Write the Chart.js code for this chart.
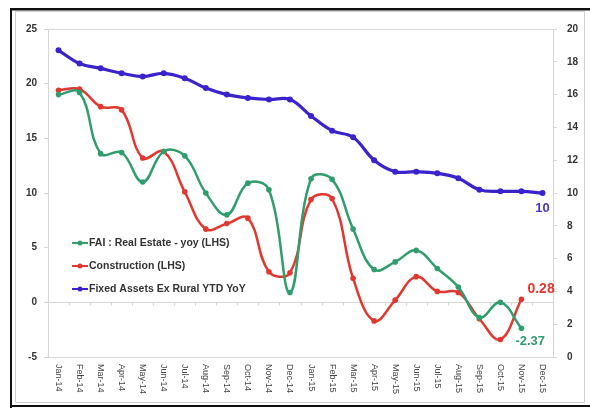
<!DOCTYPE html>
<html>
<head>
<meta charset="utf-8">
<script src="https://cdn.jsdelivr.net/npm/chart.js@4.4.0/dist/chart.umd.min.js"></script>
<style>
  html, body { margin: 0; padding: 0; background: #fff; }
  #wrap { position: relative; width: 590px; height: 408px; }
</style>
</head>
<body>
<div id="wrap"><canvas id="fai-chart"></canvas></div>
<script>
// Data
const months = ['Jan-14', 'Feb-14', 'Mar-14', 'Apr-14', 'May-14', 'Jun-14', 'Jul-14', 'Aug-14',
  'Sep-14', 'Oct-14', 'Nov-14', 'Dec-14', 'Jan-15', 'Feb-15', 'Mar-15', 'Apr-15', 'May-15',
  'Jun-15', 'Jul-15', 'Aug-15', 'Sep-15', 'Oct-15', 'Nov-15', 'Dec-15'];
const realEstate = [19.0, 19.2, 13.6, 13.7, 11.0, 13.8, 13.4, 10.0, 8.0, 10.9, 10.3, 0.9,
  11.3, 11.25, 6.7, 3.0, 3.7, 4.75, 3.1, 1.4, -1.4, 0.0, -2.37, null];
const construction = [19.4, 19.5, 17.9, 17.6, 13.2, 13.8, 10.1, 6.7, 7.2, 7.7, 2.8, 2.7,
  9.4, 9.5, 2.2, -1.7, 0.2, 2.35, 1.0, 0.9, -1.5, -3.4, 0.28, null];
const fixedAssets = [18.7, 17.9, 17.6, 17.3, 17.1, 17.3, 17.0, 16.4, 16.0, 15.8, 15.7, 15.7,
  14.7, 13.8, 13.4, 12.0, 11.3, 11.3, 11.2, 10.9, 10.2, 10.1, 10.1, 10.0];
const leftTicks = [-5, 0, 5, 10, 15, 20, 25];
const rightTicks = [0, 2, 4, 6, 8, 10, 12, 14, 16, 18, 20];
const seriesNames = ['FAI : Real Estate - yoy (LHS)', 'Construction (LHS)', 'Fixed Assets Ex Rural YTD YoY'];

const green = '#2f9e6c';
const red = '#e2372e';
const blue = '#3a22cc';
const axisGray = '#d6d6d6';
const textColor = '#333333';

// frame, plot box, zero line, rotated month labels, legend and end labels
const decorPlugin = {
  id: 'decor',
  beforeDraw(chart) {
    const { ctx, chartArea: a } = chart;
    ctx.save();
    ctx.fillStyle = '#fff';
    ctx.fillRect(0, 0, chart.width, chart.height);
    ctx.strokeStyle = '#cfcfcf';
    ctx.lineWidth = 1;
    ctx.strokeRect(15.5, 11.5, 569, 391);
    ctx.fillStyle = '#111';
    ctx.fillRect(10, 8, 580, 2.5);
    ctx.fillRect(10, 8, 2, 400);
    ctx.fillRect(10, 405, 580, 2);
    ctx.strokeStyle = axisGray;
    ctx.strokeRect(a.left + 0.5, a.top + 0.5, a.right - a.left, a.bottom - a.top);
    // zero line of the left axis
    const y0 = Math.round(chart.scales.y.getPixelForValue(0)) + 0.5;
    ctx.beginPath();
    ctx.moveTo(a.left, y0);
    ctx.lineTo(a.right, y0);
    const xs = chart.scales.x;
    for (let i = 0; i <= months.length; i++) {
      const bx = Math.round(xs.getPixelForValue(i - 0.5)) + 0.5;
      ctx.moveTo(bx, y0);
      ctx.lineTo(bx, y0 + 3);
    }
    ctx.stroke();
    ctx.restore();
  },
  afterDraw(chart) {
    const { ctx } = chart;
    const xs = chart.scales.x;
    ctx.save();
    // month labels, rotated clockwise
    ctx.fillStyle = '#444';
    ctx.font = '9px "Liberation Sans", Arial, sans-serif';
    ctx.textAlign = 'left';
    ctx.textBaseline = 'middle';
    months.forEach((m, i) => {
      ctx.save();
      ctx.translate(xs.getPixelForValue(i), 364);
      ctx.rotate(Math.PI / 2);
      ctx.fillText(m, 0, 0);
      ctx.restore();
    });
    // legend inside plot
    const legendY = [243, 266, 289];
    chart.data.datasets.forEach((ds, i) => {
      const y = legendY[i];
      ctx.strokeStyle = ds.borderColor;
      ctx.lineWidth = 2;
      ctx.beginPath();
      ctx.moveTo(72, y);
      ctx.lineTo(88, y);
      ctx.stroke();
      ctx.fillStyle = ds.borderColor;
      ctx.beginPath();
      ctx.arc(80, y, 2.5, 0, Math.PI * 2);
      ctx.fill();
      ctx.fillStyle = '#333';
      ctx.font = 'bold 10.5px "Liberation Sans", Arial, sans-serif';
      ctx.textBaseline = 'middle';
      ctx.fillText(seriesNames[i], 89, y);
    });
    // end-of-series value labels
    const yL = chart.scales.y, yR = chart.scales.y1;
    const lastRE = realEstate.length - 2, lastC = construction.length - 2, lastF = fixedAssets.length - 1;
    ctx.textBaseline = 'middle';
    ctx.font = 'bold 13px "Liberation Sans", Arial, sans-serif';
    ctx.fillStyle = '#4a36c4';
    ctx.textAlign = 'center';
    ctx.fillText(String(fixedAssets[lastF]), xs.getPixelForValue(lastF), yR.getPixelForValue(fixedAssets[lastF]) + 15);
    ctx.textAlign = 'left';
    ctx.font = 'bold 14px "Liberation Sans", Arial, sans-serif';
    ctx.fillStyle = red;
    ctx.fillText(construction[lastC].toFixed(2), xs.getPixelForValue(lastC) + 6, yL.getPixelForValue(construction[lastC]) - 10);
    ctx.font = 'bold 13px "Liberation Sans", Arial, sans-serif';
    ctx.fillStyle = green;
    ctx.fillText(realEstate[lastRE].toFixed(2), xs.getPixelForValue(lastRE) - 6, yL.getPixelForValue(realEstate[lastRE]) + 13);
    ctx.restore();
  }
};

const tickFont = { family: '"Liberation Sans", Arial, sans-serif', size: 10, weight: 'bold' };

new Chart(document.getElementById('fai-chart'), {
  type: 'line',
  data: {
    labels: months,
    datasets: [
      { label: seriesNames[0], data: realEstate, yAxisID: 'y', borderColor: green, backgroundColor: green,
        borderWidth: 2.5, pointRadius: 2.8, pointBorderWidth: 0, tension: 0.4 },
      { label: seriesNames[1], data: construction, yAxisID: 'y', borderColor: red, backgroundColor: red,
        borderWidth: 2.5, pointRadius: 2.8, pointBorderWidth: 0, tension: 0.4 },
      { label: seriesNames[2], data: fixedAssets, yAxisID: 'y1', borderColor: blue, backgroundColor: blue,
        borderWidth: 3.2, pointRadius: 3, pointBorderWidth: 0, tension: 0.4 }
    ]
  },
  options: {
    responsive: true,
    maintainAspectRatio: false,
    animation: false,
    layout: { padding: { top: 29, left: 0, right: 0, bottom: 0 } },
    plugins: { legend: { display: false }, tooltip: { enabled: false } },
    scales: {
      x: {
        offset: true,
        grid: { display: false },
        border: { display: false },
        ticks: { display: false },
        afterFit: s => { s.height = 51; }
      },
      y: {
        position: 'left',
        min: -5, max: 25,
        afterBuildTicks: s => { s.ticks = leftTicks.map(v => ({ value: v })); },
        grid: { drawOnChartArea: false, drawTicks: true, tickLength: 4, color: axisGray },
        border: { display: true, color: axisGray },
        ticks: { color: textColor, font: tickFont, padding: 7 },
        afterFit: s => { s.width = 48; }
      },
      y1: {
        position: 'right',
        min: 0, max: 20,
        afterBuildTicks: s => { s.ticks = rightTicks.map(v => ({ value: v })); },
        grid: { drawOnChartArea: false, drawTicks: true, tickLength: 4, color: axisGray },
        border: { display: true, color: axisGray },
        ticks: { color: textColor, font: tickFont, padding: 10 },
        afterFit: s => { s.width = 37; }
      }
    }
  },
  plugins: [decorPlugin]
});
</script>
</body>
</html>
